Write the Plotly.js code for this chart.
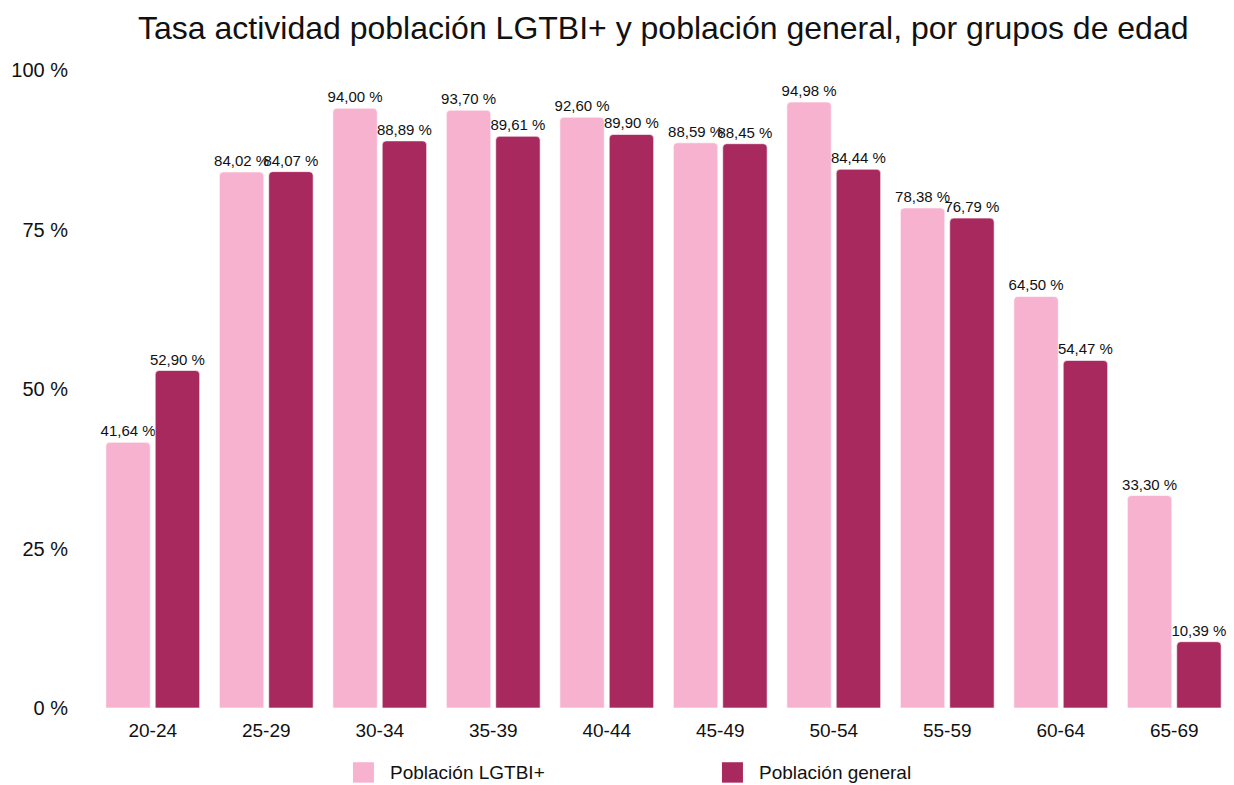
<!DOCTYPE html>
<html>
<head>
<meta charset="utf-8">
<script src="https://cdn.plot.ly/plotly-3.0.1.min.js"></script>
<style>html,body{margin:0;padding:0;background:#fff;}#chart{width:1234px;height:785px;}</style>
</head>
<body>
<div id="chart"></div>
<script>
const categories = ["20-24","25-29","30-34","35-39","40-44","45-49","50-54","55-59","60-64","65-69"];
const lgtbiValues = [41.64, 84.02, 94.00, 93.70, 92.60, 88.59, 94.98, 78.38, 64.50, 33.30];
const generalValues = [52.90, 84.07, 88.89, 89.61, 89.90, 88.45, 84.44, 76.79, 54.47, 10.39];
const seriesNames = ["Población LGTBI+", "Población general"];
const yTickVals = [0, 25, 50, 75, 100];
const yTickText = ["0 %", "25 %", "50 %", "75 %", "100 %"];

const colors = ["#F7B2D0", "#A8295E"];
const FONT = "Helvetica Neue, Helvetica, Liberation Sans, Arial, sans-serif";
const fmt = v => v.toFixed(2).replace(".", ",") + " %";

function barTrace(name, vals, color) {
  return {
    type: "bar", name: name, x: categories, y: vals,
    text: vals.map(fmt), textposition: "outside", cliponaxis: false, constraintext: "none",
    textfont: {family: FONT, size: 15, color: "#111"},
    marker: {color: color, cornerradius: 4, line: {color: "rgba(255,255,255,0.6)", width: 1}},
    hoverinfo: "x+y", showlegend: false
  };
}

const data = [
  barTrace(seriesNames[0], lgtbiValues, colors[0]),
  barTrace(seriesNames[1], generalValues, colors[1])
];

// manual legend (positions in paper coords)
const legX = [0.2264, 0.5515];
const shapes = seriesNames.map((n, i) => ({
  type: "rect", xref: "paper", yref: "paper",
  x0: legX[i], x1: legX[i] + 0.0185, y0: -0.117, y1: -0.085,
  fillcolor: colors[i], line: {width: 0}
}));
const annotations = seriesNames.map((n, i) => ({
  xref: "paper", yref: "paper", x: legX[i] + 0.0305, y: -0.101,
  xanchor: "left", yanchor: "middle", text: n, showarrow: false,
  font: {family: FONT, size: 19, color: "#111"}
}));

const layout = {
  width: 1234, height: 785,
  margin: {l: 96, r: 3, t: 70, b: 77},
  paper_bgcolor: "#fff", plot_bgcolor: "#fff",
  font: {family: FONT, color: "#111"},
  title: {text: "Tasa actividad población LGTBI+ y población general, por grupos de edad",
          font: {family: FONT, size: 32, color: "#111"}, x: 0.5375, xanchor: "center", y: 0.965, yanchor: "middle"},
  barmode: "group", bargap: 0.13, bargroupgap: 0.1,
  xaxis: {showgrid: false, zeroline: false, showline: false, ticks: "",
          tickfont: {family: FONT, size: 19, color: "#111"}, ticklabelstandoff: 9},
  yaxis: {range: [0, 100], showgrid: false, zeroline: false, showline: false, ticks: "",
          tickvals: yTickVals, ticktext: yTickText,
          tickfont: {family: FONT, size: 20, color: "#111"}, ticklabelstandoff: 27},
  shapes: shapes, annotations: annotations,
  showlegend: false
};

Plotly.newPlot("chart", data, layout, {displayModeBar: false, staticPlot: true});
</script>
</body>
</html>
